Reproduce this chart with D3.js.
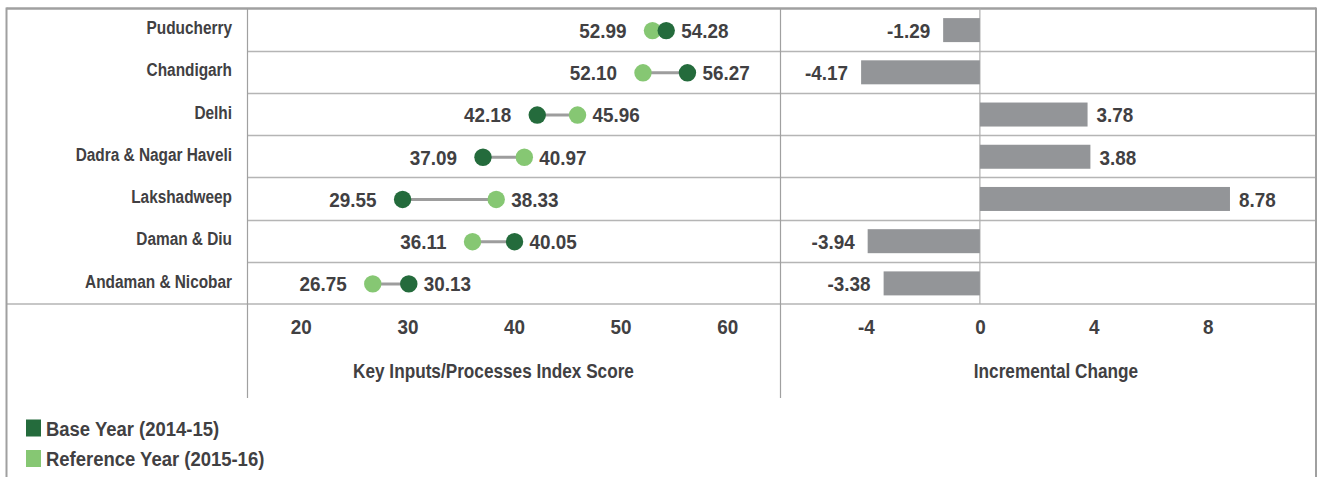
<html>
  <head>
    <meta charset="utf-8">
    <title>Key Inputs/Processes Index Score</title>
    <style>
      html, body {
        margin: 0;
        padding: 0;
        background: #fff;
      }
      svg text {
        font-family: "Liberation Sans", Arial, sans-serif;
        font-weight: bold;
        fill: #414042;
      }
    </style>
  </head>
  <body>

<svg id="viz"></svg>

<script src="https://d3js.org/d3.v7.min.js"></script>
<script>
// data
var categories = ["Puducherry", "Chandigarh", "Delhi", "Dadra & Nagar Haveli",
                  "Lakshadweep", "Daman & Diu", "Andaman & Nicobar"];
var baseYear = [54.28, 56.27, 42.18, 37.09, 29.55, 40.05, 30.13];      // 2014-15
var refYear  = [52.99, 52.10, 45.96, 40.97, 38.33, 36.11, 26.75];      // 2015-16
var change   = [-1.29, -4.17, 3.78, 3.88, 8.78, -3.94, -3.38];
var scoreTicks = [20, 30, 40, 50, 60];
var changeTicks = [-4, 0, 4, 8];
var legendLabels = ["Base Year (2014-15)", "Reference Year (2015-16)"];

var width = 1322;
var height = 477;
var darkGreen = "#246b3c";
var lightGreen = "#86c773";
var barGray = "#939598";

// panel edges
var panelTop = 8.5, panelBottom = 304;
var outerLeft = 6.5, outerRight = 1316;
var leftDiv = 247.5, midDiv = 780.5;

var svg = d3.select("#viz").attr("width", width).attr("height", height);

var y = d3.scaleBand().domain(categories).range([panelTop, panelBottom]);
var xScore = d3.scaleLinear().domain([15, 65]).range([leftDiv, midDiv]);
var xChange = d3.scaleLinear().domain([-7, 11.8]).range([midDiv, outerRight]);

var rows = categories.map(function(c, i) {
    return {name: c, base: baseYear[i], ref: refYear[i], change: change[i]};
});

function rowMid(d) { return y(d.name) + y.bandwidth() / 2; }

// no condensed font installed, so text gets squeezed horizontally around its x
function squeezeText(sel, k) {
    sel.each(function() {
        var x = +this.getAttribute("x") || 0;
        this.setAttribute("transform",
            "translate(" + x + ",0) scale(" + k + ",1) translate(" + (-x) + ",0)");
    });
}

// grid / frame lines
var grid = svg.append("g").attr("class", "grid");

grid.selectAll("line.row")
    .data(categories.slice(1))
    .enter()
    .append("line")
    .attr("class", "row")
    .attr("x1", leftDiv).attr("x2", outerRight)
    .attr("y1", function(d) { return Math.round(y(d)) + 0.5; })
    .attr("y2", function(d) { return Math.round(y(d)) + 0.5; })
    .attr("stroke", "#b5b5b5")
    .attr("stroke-width", 1.5);

grid.append("line")   // bottom of the rows
    .attr("x1", outerLeft).attr("x2", outerRight)
    .attr("y1", panelBottom).attr("y2", panelBottom)
    .attr("stroke", "#b5b5b5").attr("stroke-width", 1.5);

grid.append("line")   // top frame
    .attr("x1", outerLeft).attr("x2", outerRight)
    .attr("y1", panelTop).attr("y2", panelTop)
    .attr("stroke", "#a0a0a0").attr("stroke-width", 2.5);

[outerLeft, outerRight].forEach(function(x) {
    grid.append("line")
        .attr("x1", x).attr("x2", x)
        .attr("y1", panelTop - 1).attr("y2", height)
        .attr("stroke", "#a0a0a0").attr("stroke-width", 2);
});

[leftDiv, midDiv].forEach(function(x) {
    grid.append("line")
        .attr("x1", x).attr("x2", x)
        .attr("y1", panelTop).attr("y2", 398)
        .attr("stroke", "#a0a0a0").attr("stroke-width", 1.2);
});

grid.append("line")   // zero line of the change panel
    .attr("x1", xChange(0)).attr("x2", xChange(0))
    .attr("y1", panelTop).attr("y2", panelBottom)
    .attr("stroke", "#b0b0b0").attr("stroke-width", 1.2);

// category labels (sit a touch above the row middle)
var catLabels = svg.append("g")
    .selectAll("text")
    .data(rows)
    .enter()
    .append("text")
    .attr("x", 232)
    .attr("y", function(d) { return rowMid(d) - 2; })
    .attr("dy", "0.35em")
    .attr("text-anchor", "end")
    .style("font-size", "19px")
    .text(function(d) { return d.name; });
squeezeText(catLabels, 0.81);

// dumbbells
var dumb = svg.append("g").attr("class", "dumbbells");
var cy = function(d) { return rowMid(d) + 1; };

dumb.selectAll("line")
    .data(rows)
    .enter()
    .append("line")
    .attr("x1", function(d) { return xScore(d.base); })
    .attr("x2", function(d) { return xScore(d.ref); })
    .attr("y1", cy).attr("y2", cy)
    .attr("stroke", "#9d9d9d")
    .attr("stroke-width", 3);

dumb.selectAll("circle.ref")
    .data(rows)
    .enter()
    .append("circle")
    .attr("class", "ref")
    .attr("cx", function(d) { return xScore(d.ref); })
    .attr("cy", cy)
    .attr("r", 8.7)
    .attr("fill", lightGreen);

dumb.selectAll("circle.base")
    .data(rows)
    .enter()
    .append("circle")
    .attr("class", "base")
    .attr("cx", function(d) { return xScore(d.base); })
    .attr("cy", cy)
    .attr("r", 8.7)
    .attr("fill", darkGreen);

// value labels: smaller value on the left, larger on the right
var loLabels = dumb.selectAll("text.lo")
    .data(rows)
    .enter()
    .append("text")
    .attr("class", "lo")
    .attr("x", function(d) { return xScore(Math.min(d.base, d.ref)) - 26; })
    .attr("y", cy)
    .attr("dy", "0.35em")
    .attr("text-anchor", "end")
    .style("font-size", "21px")
    .text(function(d) { return Math.min(d.base, d.ref).toFixed(2); });

var hiLabels = dumb.selectAll("text.hi")
    .data(rows)
    .enter()
    .append("text")
    .attr("class", "hi")
    .attr("x", function(d) { return xScore(Math.max(d.base, d.ref)) + 15; })
    .attr("y", cy)
    .attr("dy", "0.35em")
    .style("font-size", "21px")
    .text(function(d) { return Math.max(d.base, d.ref).toFixed(2); });
squeezeText(loLabels, 0.9);
squeezeText(hiLabels, 0.9);

// incremental change bars
var bars = svg.append("g").attr("class", "bars");
var barH = 24;

bars.selectAll("rect")
    .data(rows)
    .enter()
    .append("rect")
    .attr("x", function(d) { return xChange(Math.min(0, d.change)); })
    .attr("width", function(d) { return Math.abs(xChange(d.change) - xChange(0)); })
    .attr("y", function(d) { return rowMid(d) - barH / 2 + 0.5; })
    .attr("height", barH)
    .attr("fill", barGray);

var barLabels = bars.selectAll("text")
    .data(rows)
    .enter()
    .append("text")
    .attr("x", function(d) { return d.change < 0 ? xChange(d.change) - 13 : xChange(d.change) + 9; })
    .attr("y", function(d) { return rowMid(d) + 1; })
    .attr("dy", "0.35em")
    .attr("text-anchor", function(d) { return d.change < 0 ? "end" : "start"; })
    .style("font-size", "21px")
    .text(function(d) { return d.change.toFixed(2); });
squeezeText(barLabels, 0.9);

// axes (labels only)
var axisScore = svg.append("g")
    .attr("transform", "translate(0," + panelBottom + ")")
    .call(d3.axisBottom(xScore).tickValues(scoreTicks).tickSize(0));
var axisChange = svg.append("g")
    .attr("transform", "translate(0," + panelBottom + ")")
    .call(d3.axisBottom(xChange).tickValues(changeTicks).tickSize(0)
          .tickFormat(function(d) { return String(d); }));

[axisScore, axisChange].forEach(function(ax) {
    ax.select(".domain").remove();
    ax.selectAll("text")
        .attr("y", 23)
        .attr("dy", "0.35em")
        .attr("fill", "#414042")
        .style("font-family", "'Liberation Sans', Arial, sans-serif")
        .style("font-weight", "bold")
        .style("font-size", "21px");
    squeezeText(ax.selectAll("text"), 0.9);
});

// axis titles, centred where the reference has them
var titles = svg.append("g")
    .selectAll("text")
    .data([["Key Inputs/Processes Index Score", 493.5], ["Incremental Change", 1056]])
    .enter()
    .append("text")
    .attr("x", function(d) { return d[1]; })
    .attr("y", 371)
    .attr("dy", "0.35em")
    .attr("text-anchor", "middle")
    .style("font-size", "20px")
    .text(function(d) { return d[0]; });
squeezeText(titles, 0.86);

// legend
var legend = svg.append("g")
    .selectAll("g")
    .data(legendLabels)
    .enter()
    .append("g")
    .attr("transform", function(d, i) { return "translate(26," + (419.5 + i * 30.5) + ")"; });

legend.append("rect")
    .attr("width", 15)
    .attr("height", 17)
    .attr("fill", function(d, i) { return i == 0 ? darkGreen : lightGreen; });

var legendText = legend.append("text")
    .attr("x", 20)
    .attr("y", 9)
    .attr("dy", "0.35em")
    .style("font-size", "21px")
    .text(function(d) { return d; });
squeezeText(legendText, 0.88);
</script>

  </body>
</html>
